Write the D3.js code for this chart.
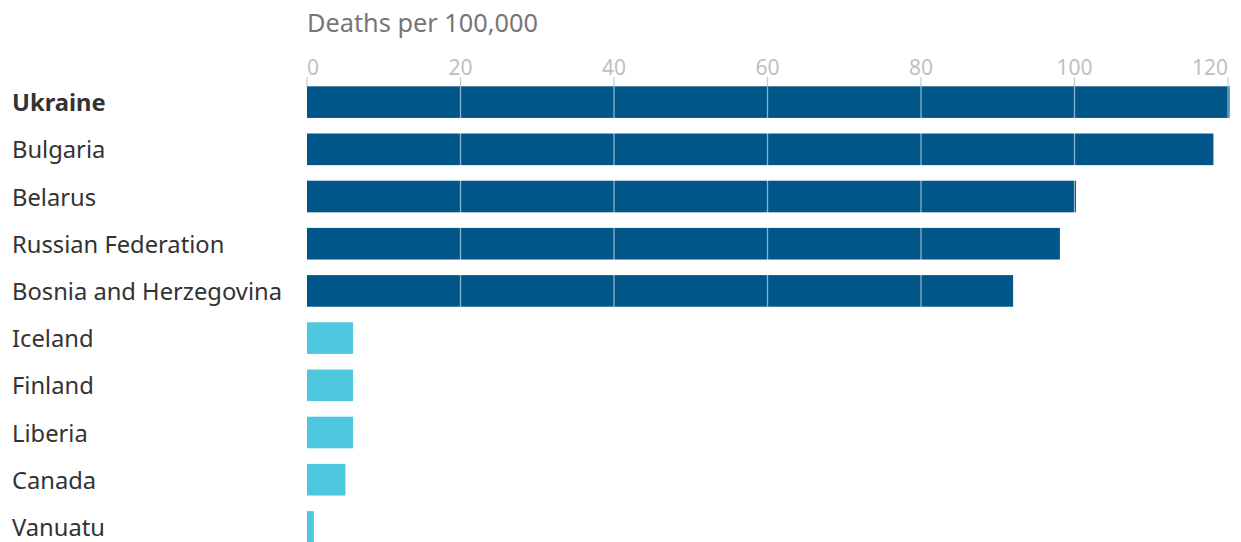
<!DOCTYPE html>
<html><head><meta charset="utf-8">
<script src="https://cdn.jsdelivr.net/npm/d3@7"></script>
<style>
html,body{margin:0;padding:0;background:#fff;}
svg{display:block;}
text{font-family:"Noto Sans",sans-serif;}
</style></head>
<body>
<svg id="chart" width="1241" height="542"></svg>
<script>
const countries = ["Ukraine","Bulgaria","Belarus","Russian Federation","Bosnia and Herzegovina","Iceland","Finland","Liberia","Canada","Vanuatu"];
const deaths = [120.2, 118.1, 100.2, 98.1, 92.0, 6.0, 6.0, 6.0, 5.0, 0.9];
const group = ["high","high","high","high","high","low","low","low","low","low"];
const ticks = [0,20,40,60,80,100,120];
const axisTitle = "Deaths per 100,000";

const svg = d3.select("#chart");
const x = d3.scaleLinear().domain([0,120]).range([307,1228]);
const y = d3.scaleBand().domain(countries).range([86.3, 86.3 + 47.2*countries.length])
  .paddingInner(0.33).paddingOuter(0.165).align(0);
const color = d3.scaleOrdinal().domain(["high","low"]).range(["#005689","#4fc7de"]);

// axis title
const title = svg.append("text").attr("x",307).attr("y",31.5).attr("fill","#767676")
  .style("font-size","24px").text(axisTitle);
const tw = title.node().getComputedTextLength();
title.style("font-size", (24*231/tw).toFixed(2)+"px");

// tick labels and tick marks
const axisG = svg.append("g");
ticks.forEach((t,i)=>{
  const anchor = i===0 ? "start" : (i===ticks.length-1 ? "end" : "middle");
  axisG.append("text").attr("x", x(t)).attr("y",75).attr("text-anchor",anchor)
    .attr("fill","#c0c0c0").style("font-size","21px").text(t);
  axisG.append("line").attr("x1",x(t)).attr("x2",x(t)).attr("y1",77).attr("y2",86.3)
    .attr("stroke","#c8c8c8").attr("stroke-width",1.2);
});

// bars
const data = countries.map((c,i)=>({c, v:deaths[i], g:group[i]}));
svg.append("g").selectAll("rect").data(data).join("rect")
  .attr("x", x(0)).attr("y", d=>y(d.c))
  .attr("width", d=>x(d.v)-x(0)).attr("height", y.bandwidth())
  .attr("fill", d=>color(d.g));

// gridlines over bars (white, semi-transparent)
svg.append("g").selectAll("line").data(ticks.slice(1)).join("line")
  .attr("x1",d=>x(d)).attr("x2",d=>x(d))
  .attr("y1",86.3).attr("y2",y(countries[4])+y.bandwidth())
  .attr("stroke","#ffffff").attr("stroke-opacity",0.55).attr("stroke-width",1.3);

// labels
const labels = svg.append("g").selectAll("text").data(data).join("text")
  .attr("x",12).attr("y",d=>y(d.c)+y.bandwidth()/2+9)
  .attr("fill","#333333")
  .style("font-size","21px")
  .style("font-weight",(d,i)=>i===0?"700":"400")
  .text(d=>d.c);
const bos = labels.filter(d=>d.c==="Bosnia and Herzegovina").node();
const w = bos.getComputedTextLength();
labels.style("font-size", (21*270/w).toFixed(2)+"px");
</script>
</body></html>
